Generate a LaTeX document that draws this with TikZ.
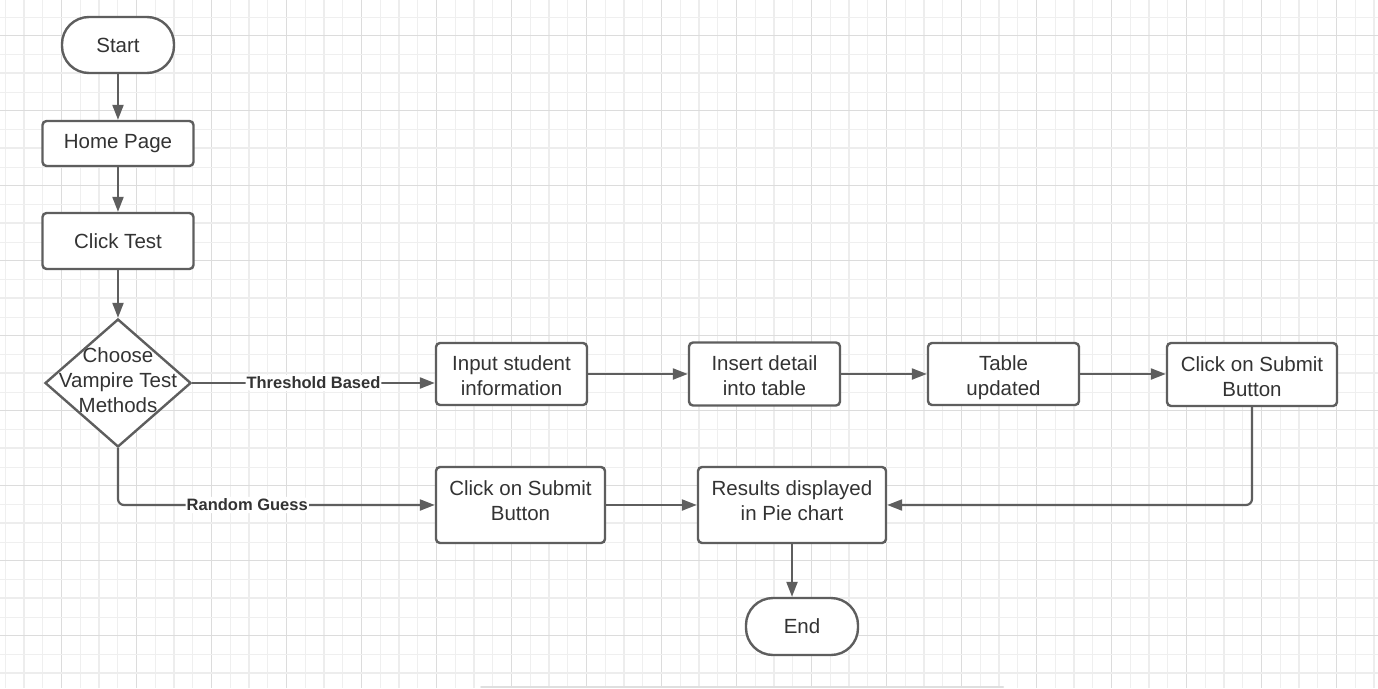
\documentclass[tikz,border=0pt]{standalone}
\usepackage{fontspec}
\setmainfont{Liberation Sans}
\usetikzlibrary{arrows.meta,shapes.geometric}
\definecolor{ln}{HTML}{5E5E5E}
\definecolor{tx}{HTML}{333333}
\definecolor{gA}{HTML}{EFEFEF}
\definecolor{gB}{HTML}{DCDCDC}
\definecolor{gC}{HTML}{EDEDED}
\newcommand\topst{\rule{0pt}{22pt}}
\newcommand\botst{\rule[-4pt]{0pt}{1pt}}
\newcommand\lowst{\rule[-8.6pt]{0pt}{1pt}}
\begin{document}
\begin{tikzpicture}[x=1pt,y=-1pt,
  box/.style={draw=ln, line width=2.4pt, rounded corners=4pt, fill=white, text=tx,
    align=center, font=\fontsize{20.5}{25}\selectfont, inner sep=0pt},
  term/.style={box, rounded corners=27pt},
  decision/.style={diamond, draw=ln, line width=2.4pt, fill=white, inner sep=0pt},
  arr/.style={draw=ln, line width=2.2pt, -{Triangle[length=15pt,width=11pt]}, rounded corners=6pt},
  lbl/.style={fill=white, text=tx, font=\fontsize{16.5}{18}\selectfont\bfseries, inner xsep=1pt, inner ysep=2pt},
  gridn/.style={draw=gA, line width=0.9pt},
  gridd/.style={draw=gB, line width=0.9pt},
  gridt/.style={draw=gC, line width=1.6pt}]
\useasboundingbox[fill=white] (0,0) rectangle (1378,688);
% grid
\foreach \i in {0,...,73} {
  \pgfmathsetmacro{\xx}{5.3+18.75*\i}
  \pgfmathtruncatemacro{\m}{mod(\i,4)}
  \ifnum\m=3 \draw[gridd] (\xx,0) -- (\xx,688);
  \else\ifnum\m=1 \draw[gridt] (\xx,0) -- (\xx,688);
  \else \draw[gridn] (\xx,0) -- (\xx,688); \fi\fi
}
\foreach \i in {0,...,36} {
  \pgfmathsetmacro{\yy}{16.95+18.75*\i}
  \pgfmathtruncatemacro{\m}{mod(\i,4)}
  \ifnum\m=1 \draw[gridd] (0,\yy) -- (1378,\yy);
  \else\ifnum\m=3 \draw[gridt] (0,\yy) -- (1378,\yy);
  \else \draw[gridn] (0,\yy) -- (1378,\yy); \fi\fi
}
\draw[gray!25, line width=2pt, line cap=round] (481,687) -- (1003,687);
% nodes
\node[term, minimum width=112pt, minimum height=56pt] (start) at (118,45) {Start};
\node[box, minimum width=151pt, minimum height=45pt] (home) at (118,143.5) {Home Page};
\node[box, minimum width=151pt, minimum height=56pt] (click) at (118,241) {Click Test};
\node[decision, minimum width=146pt, minimum height=128pt,
  label={[text=tx, align=center, font=\fontsize{20.5}{25}\selectfont, inner sep=0pt, yshift=2.5pt]center:Choose\\Vampire Test\\Methods}] (dia) at (118,383) {};
\node[box, minimum width=151pt, minimum height=62pt] (inp) at (511.5,374) {\topst Input student\\information\botst};
\node[box, minimum width=151pt, minimum height=63pt] (ins) at (764.5,374) {\topst Insert detail\\into table\botst};
\node[box, minimum width=151pt, minimum height=62pt] (tab) at (1003.5,374) {\topst Table\\updated\botst};
\node[box, minimum width=170pt, minimum height=63pt] (sub1) at (1252,374.5) {\topst Click on Submit\\Button\botst};
\node[box, minimum width=169pt, minimum height=76pt] (sub2) at (520.5,505) {Click on Submit\\Button\lowst};
\node[box, minimum width=188pt, minimum height=76pt] (res) at (792,505) {Results displayed\\in Pie chart\lowst};
\node[term, minimum width=112pt, minimum height=57pt] (end) at (802,626.5) {End};
% connectors
\draw[arr] (start) -- (home);
\draw[arr] (home) -- (click);
\draw[arr] (click) -- (dia);
\draw[arr] (dia.east) -- node[lbl]{Threshold Based} (dia.east -| inp.west);
\draw[arr] (inp.east) -- (inp.east -| ins.west);
\draw[arr] (ins.east) -- (ins.east -| tab.west);
\draw[arr] (tab.east) -- (tab.east -| sub1.west);
\draw[arr] (sub1.south) |- (res.east);
\draw[arr] (dia.south) |- node[lbl, pos=0.704]{Random Guess} (sub2.west);
\draw[arr] (sub2) -- (res);
\draw[arr] (res.south) -- (res.south |- end.north);
\end{tikzpicture}
\end{document}
